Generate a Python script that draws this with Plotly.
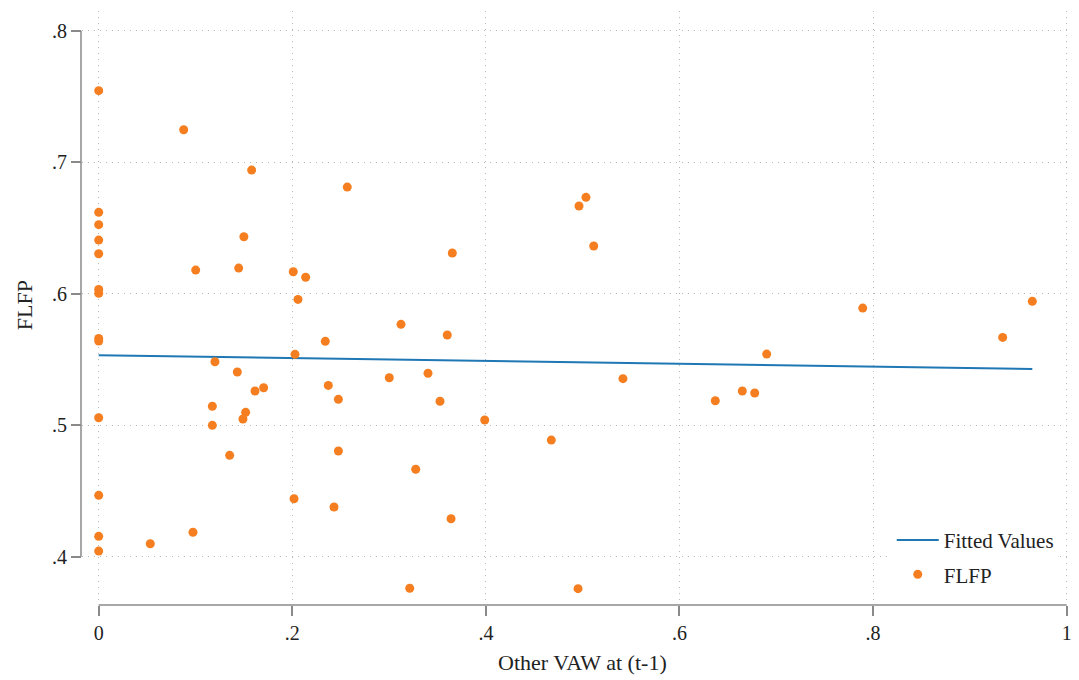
import plotly.graph_objects as go

# ---- data ----
vaw_prev = [0, 0, 0, 0, 0, 0, 0, 0, 0, 0, 0, 0, 0,
            0.0533, 0.0878, 0.0974, 0.1002, 0.1174, 0.1174, 0.1201, 0.1353,
            0.1432, 0.1446, 0.1490, 0.1500, 0.1518, 0.1580, 0.1615, 0.1704,
            0.2010, 0.2018, 0.2028, 0.2059, 0.2138, 0.2341, 0.2372, 0.2431,
            0.2476, 0.2476, 0.2568, 0.3002, 0.3123, 0.3213, 0.3275, 0.3402,
            0.3526, 0.3601, 0.3640, 0.3653, 0.3988, 0.4676, 0.4952, 0.4962,
            0.5034, 0.5114, 0.5416, 0.6370, 0.6649, 0.6777, 0.6901, 0.7893,
            0.9339, 0.9645]
flfp = [0.7544, 0.6619, 0.6525, 0.6408, 0.6304, 0.6033, 0.6003, 0.5660, 0.5640,
        0.5057, 0.4467, 0.4155, 0.4043,
        0.4099, 0.7247, 0.4186, 0.6180, 0.5144, 0.4999, 0.5483, 0.4771,
        0.5405, 0.6195, 0.5047, 0.6433, 0.5098, 0.6940, 0.5260, 0.5285,
        0.6167, 0.4441, 0.5539, 0.5957, 0.6125, 0.5638, 0.5303, 0.4378,
        0.5197, 0.4804, 0.6811, 0.5361, 0.5767, 0.3760, 0.4665, 0.5395,
        0.5182, 0.5686, 0.4289, 0.6310, 0.5040, 0.4887, 0.3757, 0.6667,
        0.6733, 0.6363, 0.5354, 0.5186, 0.5260, 0.5245, 0.5541, 0.5891,
        0.5668, 0.5942]

fit_x = [0, 0.9645]
fit_y = [0.5532, 0.5427]

x_ticks = [0, 0.2, 0.4, 0.6, 0.8, 1]
x_tick_labels = ["0", ".2", ".4", ".6", ".8", "1"]
y_ticks = [0.4, 0.5, 0.6, 0.7, 0.8]
y_tick_labels = [".4", ".5", ".6", ".7", ".8"]

FONT = "Liberation Serif"
TEXT_COLOR = "#222222"
AXIS_COLOR = "#8a8a8a"
GRID_COLOR = "#b8b8b8"

fig = go.Figure()
fig.add_trace(go.Scatter(
    x=fit_x, y=fit_y, mode="lines", name="Fitted Values",
    line=dict(color="#1f77b4", width=2), legendgroup="a",
))
fig.add_trace(go.Scatter(
    x=vaw_prev, y=flfp, mode="markers", name="FLFP",
    marker=dict(color="#f57f20", size=9, line=dict(width=0)), legendgroup="b",
))

# Stata-style axis lines that only span the tick range
fig.add_shape(type="line", xref="paper", yref="y", x0=-0.001, x1=-0.001,
              y0=min(y_ticks), y1=max(y_ticks),
              line=dict(color=AXIS_COLOR, width=1.5), layer="above")
fig.add_shape(type="line", xref="x", yref="paper", x0=min(x_ticks), x1=max(x_ticks),
              y0=0, y1=0, line=dict(color=AXIS_COLOR, width=1.5), layer="above")

fig.update_layout(
    width=1071, height=672,
    margin=dict(l=74, r=1, t=3, b=75),
    paper_bgcolor="white", plot_bgcolor="white",
    font=dict(family=FONT, size=20, color=TEXT_COLOR),
    showlegend=True,
    legend=dict(
        x=0.813, y=0.017, xanchor="left", yanchor="bottom",
        bgcolor="white", borderwidth=0, itemwidth=42,
        tracegroupgap=4, font=dict(family=FONT, size=21, color=TEXT_COLOR),
    ),
    xaxis=dict(
        range=[-0.01725, 1.0117], tickvals=x_ticks, ticktext=x_tick_labels,
        showgrid=True, gridcolor=GRID_COLOR, griddash="1px,5px", gridwidth=1,
        zeroline=False, showline=False,
        ticks="outside", ticklen=10, tickcolor=AXIS_COLOR, tickwidth=1.5,
        tickfont=dict(family=FONT, size=20, color=TEXT_COLOR),
    ),
    yaxis=dict(
        range=[0.3633, 0.815], tickvals=y_ticks, ticktext=y_tick_labels,
        showgrid=True, gridcolor=GRID_COLOR, griddash="1px,5px", gridwidth=1,
        zeroline=False, showline=False,
        ticks="outside", ticklen=10, tickcolor=AXIS_COLOR, tickwidth=1.5,
        tickfont=dict(family=FONT, size=20, color=TEXT_COLOR),
    ),
    annotations=[
        dict(text="Other VAW at (t-1)", xref="paper", yref="paper",
             x=0.503, y=-0.0976, xanchor="center", yanchor="middle",
             showarrow=False, font=dict(family=FONT, size=22, color=TEXT_COLOR)),
        dict(text="FLFP", xref="paper", yref="paper",
             x=-0.058, y=0.505, xanchor="center", yanchor="middle", textangle=-90,
             showarrow=False, font=dict(family=FONT, size=22, color=TEXT_COLOR)),
    ],
)

fig.write_html("out.html")
